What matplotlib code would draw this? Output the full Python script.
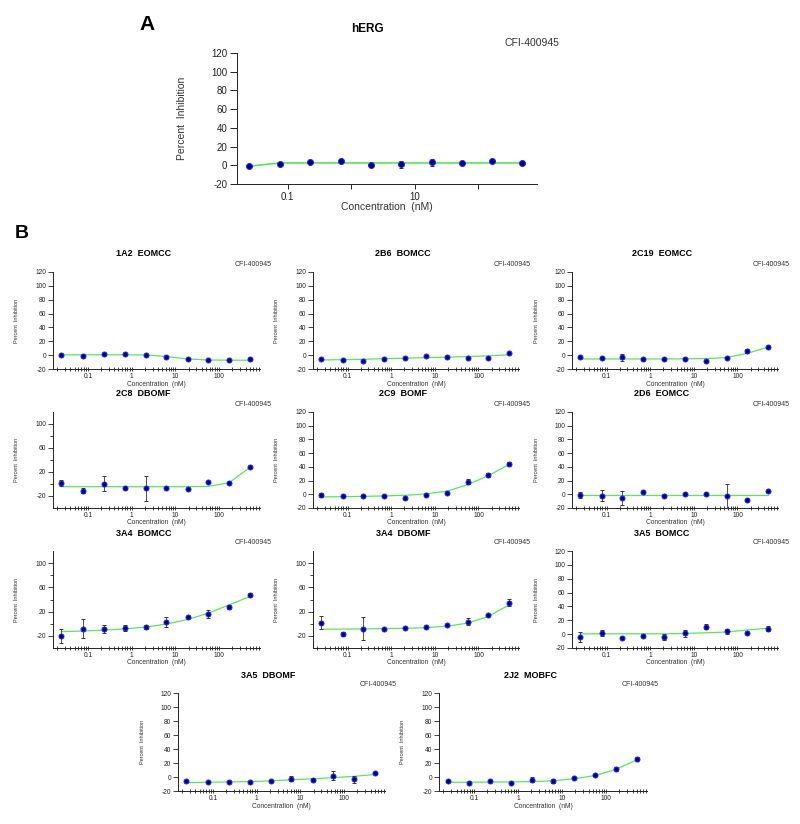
import matplotlib
matplotlib.use("Agg")
import matplotlib.pyplot as plt
from matplotlib.ticker import FixedLocator, FixedFormatter, LogLocator, NullFormatter

plt.rcParams['font.family'] = ['Liberation Sans', 'DejaVu Sans']
plt.rcParams['axes.unicode_minus'] = False

# concentrations (nM), 3-fold dilution series
conc = [0.025, 0.076, 0.23, 0.69, 2.1, 6.2, 19, 56, 167, 500]

# panel A - hERG
herg_y = [-1, 1, 3.5, 5, 0, 1, 3, 2, 5, 2]
herg_err = [0, 0, 0, 0, 1.5, 4, 4, 0, 0, 2]
herg_fit = [-1, 2.5, 2.5, 2.5, 2.5, 2.5, 2.5, 2.5, 2.5, 2.5]

# panel B - CYP isoforms
y_1a2 = [0, -1, 1, 1.5, 0.5, -2.5, -5, -7, -7, -5]
err_1a2 = [0, 0, 0, 0, 0, 0, 0, 0, 0, 0]
fit_1a2 = [0.5, 0.5, 0.5, 0.5, 0.3, -2, -5.5, -7, -7.3, -7.3]

y_2b6 = [-5, -7, -9, -5.5, -4, -1.5, -3, -3.5, -4, 3]
err_2b6 = [0, 2, 0, 0, 2, 0, 0, 0, 0, 0]
fit_2b6 = [-7, -6.5, -6, -5, -4.5, -3.5, -3, -2, -1, 0.5]

y_2c19 = [-2, -4, -3, -5.5, -6, -5, -8.5, -3.5, 5.5, 12]
err_2c19 = [0, 0, 5, 1.5, 1.5, 1, 0, 1.5, 3, 1.5]
fit_2c19 = [-5.5, -5.5, -5.5, -5.5, -5.5, -5.3, -5, -3.5, 2.5, 11.5]

y_2c8 = [1, -11, 0.5, -7, -7, -7.4, -8.5, 3, 2, 27.5]
err_2c8 = [5, 4, 12, 0, 21, 0, 0, 0, 0, 1.5]
fit_2c8 = [-4.5, -4.5, -4.5, -4.5, -4.5, -4.5, -4.5, -4, 2, 27.5]

y_2c9 = [-1, -3, -2, -2, -5, -1, 2.5, 18.5, 28, 44]
err_2c9 = [3, 0, 1.5, 1, 1, 1, 1, 4, 3, 3]
fit_2c9 = [-3.8, -3.5, -3, -2.4, -1.4, 0.5, 4.5, 14, 27, 43.5]

y_2d6 = [-1, -2, -5, 3.5, -2, 0, 0, -2.5, -8.5, 5.5]
err_2d6 = [4, 8, 10, 0, 2.5, 0, 0, 18, 0, 0]
fit_2d6 = [-0.5, -0.5, -0.5, -0.5, -0.5, -0.5, -0.5, -0.5, -0.5, -0.5]

y_3a4_bomcc = [-20, -8, -8.5, -7, -6, 2.5, 11.5, 15.5, 28, 48]
err_3a4_bomcc = [11.5, 16, 7, 5, 3, 8, 0, 6.5, 3, 2]
fit_3a4_bomcc = [-13, -12, -10.5, -8.5, -5.5, -0.5, 7, 17.5, 31, 45]

y_3a4_dbomf = [2, -17, -8, -8, -6.5, -5.5, -1.5, 3.5, 14, 35]
err_3a4_dbomf = [10, 4, 19.5, 0, 0, 0, 0, 6, 2, 6.5]
fit_3a4_dbomf = [-9, -8.8, -8.5, -8, -7.5, -6.5, -4, 1, 12, 31]

y_3a5_bomcc = [-4, 2, -6, -2, -4, 1, 10.5, 4, 1.5, 8]
err_3a5_bomcc = [7, 4, 0, 2, 4.5, 4.5, 3.5, 3.5, 0, 4]
fit_3a5_bomcc = [0.5, 0.5, 0.5, 0.5, 0.5, 1, 2, 3, 6, 8.5]

y_3a5_dbomf = [-5, -6.5, -6.5, -7, -6, -2.5, -4, 2, -3.5, 6]
err_3a5_dbomf = [0, 0, 0, 0, 0, 3.4, 0, 6.7, 4.8, 0]
fit_3a5_dbomf = [-8, -7.5, -7, -6.5, -5.5, -4, -2.5, -1, 1, 3.5]

y_2j2 = [-6, -8, -5.5, -9, -4, -5.5, -1, 2.5, 11.5, 25.5]
err_2j2 = [0, 0, 0, 0, 3.8, 3, 0, 0, 3, 3]
fit_2j2 = [-7.5, -7.5, -7.3, -7, -6.5, -5.5, -2.5, 2, 11, 24.5]

compound = "CFI-400945"
GREEN = "#5ee35e"
W, H = 800, 824

fig = plt.figure(figsize=(W / 100, H / 100), dpi=100)


def px_axes(left, top, right, bottom):
    return fig.add_axes([left / W, 1 - bottom / H, (right - left) / W, (bottom - top) / H])


def draw(ax, y, err, fit, ms, lw):
    ax.plot(conc, fit, color=GREEN, lw=lw, zorder=2)
    ax.errorbar(conc, y, yerr=err, fmt='o', ms=ms, mfc='#00007a', mec='#1f1fff', mew=0.7,
                ecolor='#333333', elinewidth=0.6, capsize=1.4, capthick=0.6, zorder=3)
    ax.set_xscale('log')
    ax.set_xlim(0.016, 850)
    for s in ['top', 'right']:
        ax.spines[s].set_visible(False)
    for s in ['left', 'bottom']:
        ax.spines[s].set_linewidth(0.7)
        ax.spines[s].set_color('#222222')


# ---------------- panel A ----------------
axA = px_axes(237, 53, 537, 184)
draw(axA, herg_y, herg_err, herg_fit, ms=4.3, lw=1.2)
axA.set_ylim(-20, 120)
axA.set_yticks(range(-20, 121, 20))
axA.xaxis.set_major_locator(FixedLocator([0.1, 1, 10, 100]))
axA.xaxis.set_major_formatter(FixedFormatter(['0.1', '', '10', '']))
axA.xaxis.set_minor_locator(FixedLocator([]))
axA.tick_params(axis='both', labelsize=7, colors='#222222', width=0.7)
axA.tick_params(axis='y', length=5, pad=2)
axA.tick_params(axis='x', length=3.5, pad=2)
fig.text(147 / W, 1 - 25 / H, "A", fontsize=15, fontweight='bold', ha='center', va='center')
fig.text(367 / W, 1 - 29 / H, "hERG", fontsize=8.5, fontweight='bold', ha='center', va='center')
fig.text(559 / W, 1 - 43 / H, compound, fontsize=7.5, ha='right', va='center', color='#333333')
fig.text(182 / W, 1 - 118 / H, "Percent  Inhibition", fontsize=7.5, rotation=90,
         ha='center', va='center', color='#333333')
fig.text(387 / W, 1 - 207 / H, "Concentration  (nM)", fontsize=7.5, ha='center', va='center',
         color='#333333')

# ---------------- panel B ----------------
fig.text(22 / W, 1 - 233 / H, "B", fontsize=14, fontweight='bold', ha='center', va='center')

cols = [(53, 260), (313, 519), (572, 778)]
rows = [(272, 369), (412, 508), (551, 648)]
row4_cols = [(178, 385), (439, 647)]
row4 = (693, 791)

panels = [
    ("1A2  EOMCC", y_1a2, err_1a2, fit_1a2, False, cols[0], rows[0]),
    ("2B6  BOMCC", y_2b6, err_2b6, fit_2b6, False, cols[1], rows[0]),
    ("2C19  EOMCC", y_2c19, err_2c19, fit_2c19, False, cols[2], rows[0]),
    ("2C8  DBOMF", y_2c8, err_2c8, fit_2c8, True, cols[0], rows[1]),
    ("2C9  BOMF", y_2c9, err_2c9, fit_2c9, False, cols[1], rows[1]),
    ("2D6  EOMCC", y_2d6, err_2d6, fit_2d6, False, cols[2], rows[1]),
    ("3A4  BOMCC", y_3a4_bomcc, err_3a4_bomcc, fit_3a4_bomcc, True, cols[0], rows[2]),
    ("3A4  DBOMF", y_3a4_dbomf, err_3a4_dbomf, fit_3a4_dbomf, True, cols[1], rows[2]),
    ("3A5  BOMCC", y_3a5_bomcc, err_3a5_bomcc, fit_3a5_bomcc, False, cols[2], rows[2]),
    ("3A5  DBOMF", y_3a5_dbomf, err_3a5_dbomf, fit_3a5_dbomf, False, row4_cols[0], row4),
    ("2J2  MOBFC", y_2j2, err_2j2, fit_2j2, False, row4_cols[1], row4),
]

for title, y, err, fit, wide, (x0, x1), (y0, y1) in panels:
    ax = px_axes(x0, y0, x1, y1)
    draw(ax, y, err, fit, ms=3.6, lw=0.9)
    if wide:
        ax.set_ylim(-40, 120)
        ax.set_yticks([-20, 20, 60, 100])
        ax.set_yticks([0, 40, 80], minor=True)
    else:
        ax.set_ylim(-20, 120)
        ax.set_yticks(range(-20, 121, 20))
    ax.xaxis.set_major_locator(FixedLocator([0.1, 1, 10, 100]))
    ax.xaxis.set_major_formatter(FixedFormatter(['0.1', '1', '10', '100']))
    ax.xaxis.set_minor_locator(LogLocator(base=10, subs=range(2, 10), numticks=20))
    ax.xaxis.set_minor_formatter(NullFormatter())
    ax.tick_params(axis='both', which='both', labelsize=4.8, colors='#222222', width=0.6)
    ax.tick_params(axis='y', which='major', length=3.5, pad=1.5)
    ax.tick_params(axis='y', which='minor', length=2.5)
    ax.tick_params(axis='x', which='both', direction='inout', length=3.5, pad=1.2)
    cx = (x0 + x1) / 2
    fig.text((cx - 13) / W, 1 - (y0 - 18) / H, title, fontsize=6.5, fontweight='bold',
             ha='center', va='center')
    fig.text((x1 + 12) / W, 1 - (y0 - 8) / H, compound, fontsize=5, ha='right', va='center',
             color='#333333')
    fig.text((x0 - 36) / W, 1 - ((y0 + y1) / 2) / H, "Percent  Inhibition", fontsize=4,
             rotation=90, ha='center', va='center', color='#333333')
    fig.text(cx / W, 1 - (y1 + 15) / H, "Concentration  (nM)", fontsize=4.8, ha='center',
             va='center', color='#333333')

fig.savefig("out.png", dpi=100)
